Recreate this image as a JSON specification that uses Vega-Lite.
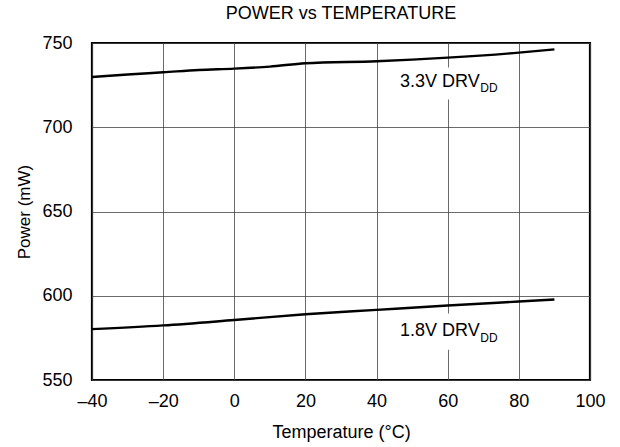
{
  "$schema": "https://vega.github.io/schema/vega-lite/v6.json",
  "width": 498,
  "height": 337,
  "autosize": {"type": "none"},
  "padding": {"left": 92, "top": 43, "right": 30, "bottom": 67},
  "background": "white",
  "config": {
    "font": "Liberation Sans",
    "view": {"stroke": "black", "strokeWidth": 2.2},
    "axis": {
      "grid": true,
      "gridColor": "#444",
      "gridWidth": 0.8,
      "ticks": false,
      "domain": false,
      "labelFlush": false,
      "labelFont": "Liberation Sans",
      "labelFontSize": 18,
      "labelColor": "black",
      "titleFont": "Liberation Sans",
      "titleFontSize": 18,
      "titleFontWeight": "normal",
      "titleColor": "black"
    }
  },
  "title": {
    "text": "POWER vs TEMPERATURE",
    "font": "Liberation Sans",
    "fontSize": 18,
    "fontWeight": "normal",
    "color": "black",
    "offset": 11
  },
  "datasets": {
    "lines": [
      {"series": "3.3V", "temp": -40, "power": 729.8},
      {"series": "3.3V", "temp": -30, "power": 731.3},
      {"series": "3.3V", "temp": -20, "power": 732.6},
      {"series": "3.3V", "temp": -10, "power": 734.0},
      {"series": "3.3V", "temp": 0, "power": 734.8},
      {"series": "3.3V", "temp": 10, "power": 736.0},
      {"series": "3.3V", "temp": 20, "power": 738.0},
      {"series": "3.3V", "temp": 40, "power": 739.2},
      {"series": "3.3V", "temp": 60, "power": 741.3},
      {"series": "3.3V", "temp": 80, "power": 744.3},
      {"series": "3.3V", "temp": 90, "power": 746.2},
      {"series": "1.8V", "temp": -40, "power": 580.2},
      {"series": "1.8V", "temp": -20, "power": 582.4},
      {"series": "1.8V", "temp": 0, "power": 585.6},
      {"series": "1.8V", "temp": 20, "power": 589.0},
      {"series": "1.8V", "temp": 40, "power": 591.6},
      {"series": "1.8V", "temp": 60, "power": 594.2},
      {"series": "1.8V", "temp": 80, "power": 596.6},
      {"series": "1.8V", "temp": 90, "power": 597.8}
    ],
    "labels": [
      {"main": "3.3V DRV", "sub": "DD", "tx": 69, "ty": 727, "x1": 44, "x2": 75, "y1": 716.5, "y2": 735.5},
      {"main": "1.8V DRV", "sub": "DD", "tx": 69, "ty": 579, "x1": 44, "x2": 75, "y1": 568, "y2": 589.5}
    ]
  },
  "layer": [
    {
      "data": {"name": "lines"},
      "mark": {"type": "line", "color": "black", "strokeWidth": 2.4, "interpolate": "monotone"},
      "encoding": {
        "x": {
          "field": "temp", "type": "quantitative",
          "scale": {"domain": [-40, 100], "nice": false, "zero": false},
          "axis": {"values": [-40, -20, 0, 20, 40, 60, 80, 100], "title": "Temperature (°C)", "labelPadding": 12, "titlePadding": 13,
                   "labelExpr": "replace(datum.label, /[-−]/, '–')"}
        },
        "y": {
          "field": "power", "type": "quantitative",
          "scale": {"domain": [550, 750], "nice": false, "zero": false},
          "axis": {"values": [550, 600, 650, 700, 750], "title": "Power (mW)", "labelPadding": 20, "titlePadding": 8, "titleFontSize": 17}
        },
        "detail": {"field": "series"}
      }
    },
    {
      "data": {"name": "labels"},
      "mark": {"type": "rect", "color": "white"},
      "encoding": {
        "x": {"field": "x1", "type": "quantitative"},
        "x2": {"field": "x2"},
        "y": {"field": "y1", "type": "quantitative"},
        "y2": {"field": "y2"}
      }
    },
    {
      "data": {"name": "labels"},
      "mark": {"type": "text", "align": "right", "baseline": "middle", "fontSize": 18, "font": "Liberation Sans", "color": "black"},
      "encoding": {
        "x": {"field": "tx", "type": "quantitative"},
        "y": {"field": "ty", "type": "quantitative"},
        "text": {"field": "main"}
      }
    },
    {
      "data": {"name": "labels"},
      "mark": {"type": "text", "align": "left", "baseline": "middle", "fontSize": 12, "dy": 6.5, "dx": 0.5, "font": "Liberation Sans", "color": "black"},
      "encoding": {
        "x": {"field": "tx", "type": "quantitative"},
        "y": {"field": "ty", "type": "quantitative"},
        "text": {"field": "sub"}
      }
    }
  ]
}
